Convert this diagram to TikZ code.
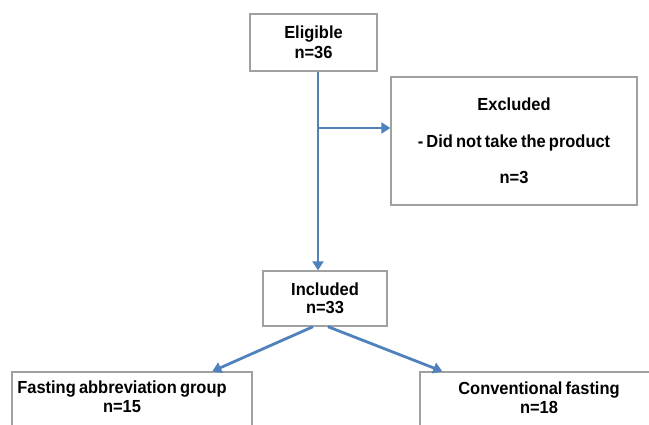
\documentclass[tikz,border=0pt]{standalone}
\usepackage{fontspec}
\setmainfont{Liberation Sans}[FakeStretch=0.94,WordSpace=0.7]
\usetikzlibrary{arrows.meta,calc}
\definecolor{boxgray}{RGB}{160,160,160}
\definecolor{arrowblue}{RGB}{79,129,189}
\begin{document}
\begin{tikzpicture}[x=1pt,y=-1pt,
  box/.style={draw=boxgray,line width=1.4pt,fill=white,inner sep=0pt,align=center,
    font=\bfseries\fontsize{17.5}{17.5}\selectfont},
  lbl/.style={inner sep=0pt,align=center,font=\bfseries\fontsize{17.5}{18.5}\selectfont},
  conn/.style={draw=arrowblue,line width=2.8pt,-{Triangle[length=9pt,width=11pt]}}]
\useasboundingbox (0,0) rectangle (649,424);
\begin{scope}
\clip (0,0) rectangle (649,424);
\node[box,minimum width=127pt,minimum height=57pt] (elig) at (313.5,42.5) {Eligible\\[3pt]n=36};
\node[box,minimum width=246pt,minimum height=128pt] (excl) at (514,141) {Excluded\\[19pt]- Did not take the product\\[19pt]n=3};
\node[box,minimum width=124pt,minimum height=55pt] (inc) at (325,298.5) {Included\\n=33};
\node[box,minimum width=240pt,minimum height=80pt] (fast) at (132,412) {};
\node[box,minimum width=240pt,minimum height=80pt] (conv) at (540,412) {};
\node[lbl] (fastT) at (122,396.5) {Fasting abbreviation group\\n=15};
\node[lbl] (convT) at (539,397.5) {Conventional fasting\\n=18};
\end{scope}
\coordinate (junc) at (318,128);
\draw[conn] (elig.south -| junc) -- (inc.north -| junc);
\draw[conn] (junc) -- (junc -| excl.west);
\draw[conn] ([xshift=-12pt]inc.south) -- ([xshift=201pt]fast.north west);
\draw[conn] ([xshift=3pt]inc.south) -- ([xshift=23pt]conv.north west);
\end{tikzpicture}
\end{document}
